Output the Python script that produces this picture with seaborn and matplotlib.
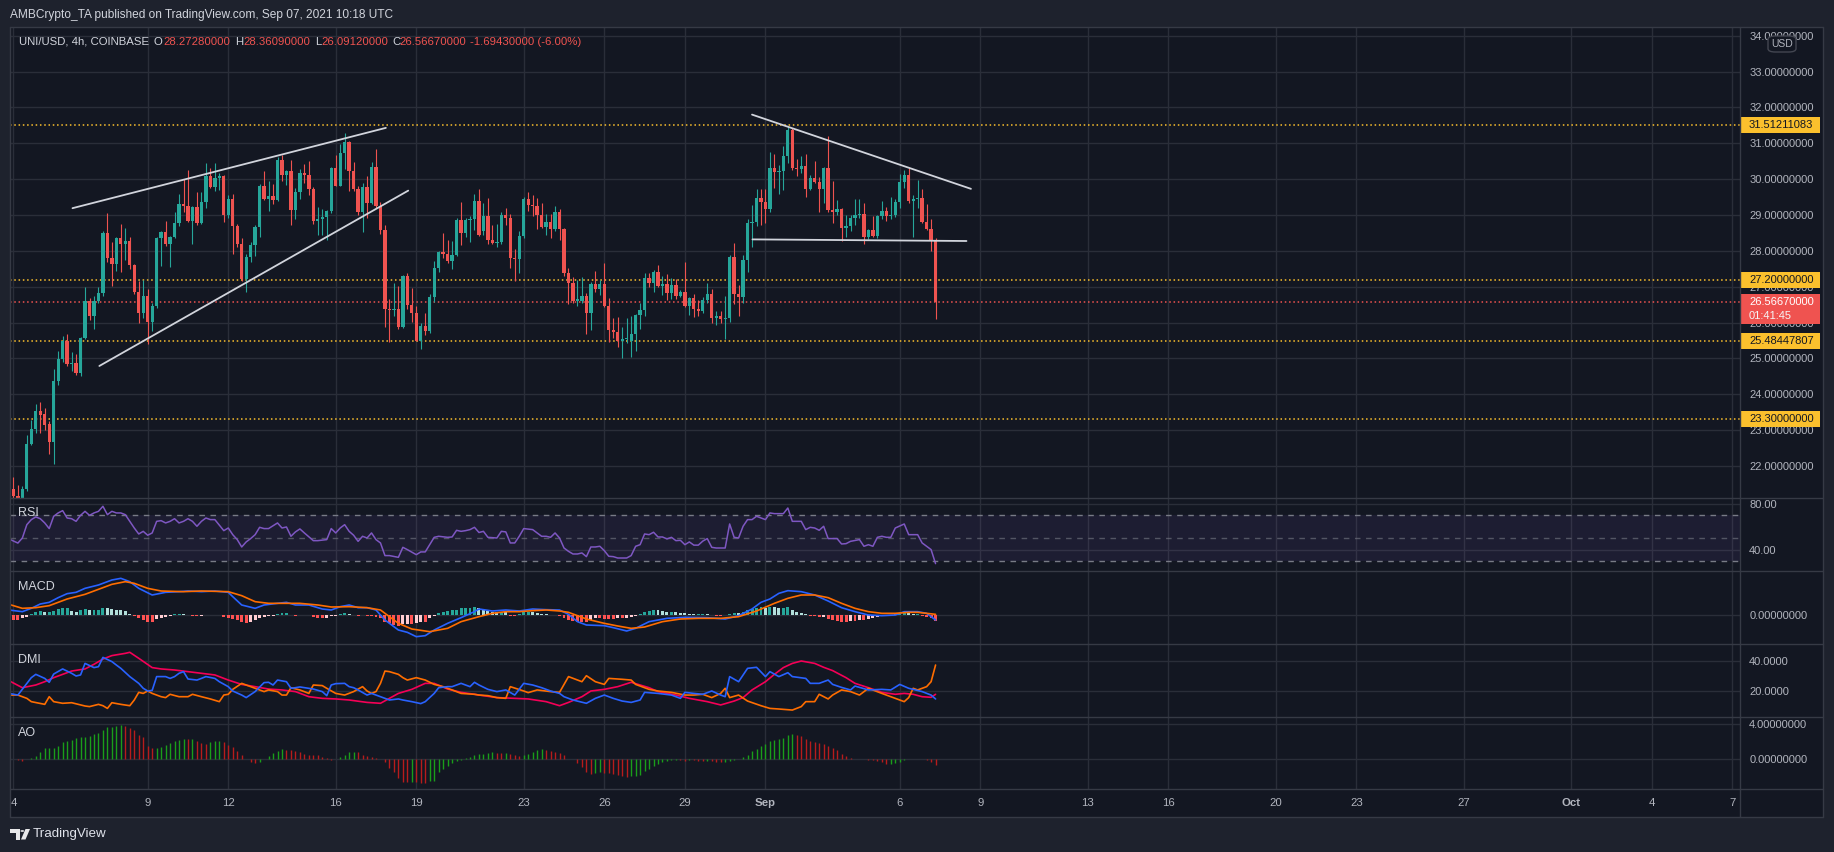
import numpy as np
import pandas as pd
import matplotlib
matplotlib.use("Agg")
import matplotlib.pyplot as plt
import seaborn as sns
from matplotlib.patches import Rectangle, FancyBboxPatch, Polygon, Circle
from matplotlib.transforms import blended_transform_factory
from matplotlib.lines import Line2D

# ---------------- data ----------------
# 4h candles, index 0 = Aug 4 2021 00:00 UTC (index -1 = Aug 3 20:00)
opens = [21.15, 21.35, 21.16, 21.12, 21.35, 22.62, 23.03, 23.53, 23.45, 23.17,
         22.68, 24.38, 24.98, 25.49, 24.84, 24.87, 24.59, 25.57, 26.61, 26.17,
         26.59, 26.82, 28.5, 27.8, 27.64, 28.36, 28.19, 28.28, 27.6, 26.86,
         26.28, 26.75, 26.02, 26.47, 28.36, 28.54, 28.2, 28.39, 28.79, 29.3,
         29.26, 28.84, 29.22, 28.78, 29.35, 30.08, 29.79, 30.03, 30.08, 29.0,
         29.44, 28.7, 28.19, 27.21, 27.82, 28.17, 28.67, 29.8, 29.46, 29.52,
         29.43, 30.53, 30.11, 30.22, 29.15, 29.63, 30.17, 30.12, 29.72, 28.84,
         28.89, 28.94, 29.1, 30.31, 29.82, 30.73, 31.04, 30.23, 29.72, 29.07,
         29.77, 29.33, 30.33, 29.26, 28.58, 26.38, 26.36, 26.38, 25.89, 27.3,
         26.49, 26.28, 25.5, 25.91, 25.77, 26.7, 27.53, 27.97, 27.91, 27.72,
         27.89, 28.86, 28.51, 28.86, 28.89, 29.39, 28.55, 28.97, 28.3, 28.23,
         28.25, 29.0, 28.91, 27.81, 27.78, 28.42, 29.45, 29.28, 29.25, 29.0,
         28.66, 28.8, 28.61, 29.08, 28.6, 27.38, 27.1, 26.6, 26.6, 26.74,
         26.26, 27.08, 26.93, 27.08, 26.47, 25.78, 25.75, 25.49, 25.54, 25.5,
         25.68, 26.21, 26.35, 27.23, 27.09, 27.4, 27.03, 27.08, 26.83, 27.05,
         26.74, 26.84, 26.47, 26.69, 26.37, 26.33, 26.63, 26.8, 26.12, 26.17,
         26.1, 26.13, 27.82, 26.8, 26.72, 27.75, 28.77, 28.81, 29.47, 29.37,
         29.18, 30.3, 30.21, 30.24, 30.65, 31.37, 30.31, 30.29, 30.37, 29.73,
         30.03, 29.93, 29.73, 30.31, 29.14, 29.07, 29.17, 28.65, 28.7, 28.93,
         29.0, 29.02, 28.4, 28.58, 28.41, 28.97, 29.11, 28.97, 29.0, 29.36,
         29.92, 30.11, 29.4, 29.44, 29.48, 28.81, 28.62, 28.2728]
highs = [21.6, 21.7, 21.47, 21.44, 22.87, 23.28, 23.73, 23.79, 23.62, 23.25,
         24.7, 25.22, 25.62, 25.68, 25.17, 25.12, 25.6, 27.0, 26.68, 26.73,
         26.98, 28.56, 29.05, 28.24, 28.4, 28.75, 28.65, 28.39, 27.62, 27.17,
         27.2, 26.95, 26.55, 28.38, 28.56, 28.83, 28.42, 29.07, 29.58, 30.0,
         30.25, 29.25, 29.63, 29.63, 30.44, 30.31, 30.44, 30.17, 30.12, 29.57,
         29.58, 28.75, 28.36, 27.9, 28.24, 28.72, 29.86, 30.23, 29.96, 29.86,
         30.63, 30.67, 30.25, 30.53, 29.74, 30.28, 30.42, 30.5, 29.78, 29.21,
         29.16, 29.14, 30.35, 30.67, 30.98, 31.29, 31.07, 30.47, 29.8, 29.9,
         30.09, 30.49, 30.84, 29.35, 28.72, 26.66, 27.1, 27.02, 27.32, 27.38,
         26.96, 26.45, 26.0, 26.28, 26.8, 27.72, 28.0, 28.49, 28.3, 28.28,
         28.92, 29.35, 28.92, 28.97, 29.59, 29.72, 29.33, 29.47, 28.72, 28.75,
         29.07, 29.2, 29.03, 28.05, 28.56, 29.49, 29.65, 29.56, 29.47, 29.33,
         29.03, 29.03, 29.25, 29.16, 28.63, 27.53, 27.28, 27.19, 27.28, 26.82,
         27.12, 27.44, 27.19, 27.65, 26.68, 26.12, 26.15, 25.87, 26.12, 26.17,
         26.24, 26.56, 27.37, 27.39, 27.48, 27.61, 27.3, 27.35, 27.23, 27.22,
         26.91, 27.68, 26.72, 26.8, 26.63, 26.72, 27.11, 26.94, 26.33, 26.32,
         26.74, 27.89, 28.21, 27.05, 27.89, 28.88, 29.27, 29.72, 29.72, 29.72,
         30.77, 30.7, 30.4, 30.93, 31.48, 31.44, 30.55, 30.65, 30.7, 30.12,
         30.51, 30.07, 30.33, 31.2, 29.95, 29.42, 29.2, 29.0, 29.0, 29.46,
         29.46, 29.34, 28.6, 28.97, 29.0, 29.39, 29.23, 29.49, 29.44, 30.14,
         30.26, 30.32, 29.56, 29.98, 29.72, 29.32, 28.89, 28.3609]
lows = [21.1, 21.1, 21.08, 21.1, 21.3, 22.58, 22.93, 22.91, 23.0, 22.33,
        22.06, 24.26, 24.9, 24.8, 24.66, 24.55, 24.52, 25.54, 26.08, 25.82,
        26.56, 26.73, 27.68, 27.03, 27.45, 27.42, 27.75, 27.49, 26.8, 26.0,
        26.14, 25.4, 25.77, 26.4, 27.59, 28.14, 27.54, 28.35, 28.7, 29.09,
        28.8, 28.19, 28.72, 28.75, 29.2, 29.75, 29.68, 29.7, 28.81, 28.93,
        27.91, 28.1, 27.15, 26.86, 27.7, 27.86, 28.38, 29.42, 29.12, 29.3,
        29.4, 29.96, 29.85, 28.73, 28.9, 29.44, 29.9, 29.55, 28.75, 28.44,
        28.43, 28.31, 29.05, 29.8, 29.8, 30.28, 29.68, 29.68, 29.0, 28.53,
        28.93, 29.3, 29.2, 28.47, 25.87, 25.47, 26.17, 25.83, 25.85, 26.38,
        26.03, 25.48, 25.27, 25.64, 25.72, 26.58, 27.42, 27.79, 27.67, 27.5,
        27.85, 28.17, 28.4, 28.26, 28.58, 28.42, 28.44, 28.19, 28.19, 28.12,
        28.2, 28.72, 27.53, 27.17, 27.39, 28.35, 29.12, 28.97, 28.61, 28.63,
        28.44, 28.37, 28.55, 28.29, 27.3, 26.52, 26.54, 26.45, 26.54, 25.68,
        25.78, 26.86, 26.77, 26.44, 25.47, 25.56, 25.31, 25.0, 25.44, 25.03,
        25.22, 25.83, 26.18, 27.0, 26.86, 26.99, 26.77, 26.63, 26.65, 26.66,
        26.7, 26.44, 26.21, 26.16, 26.17, 26.26, 26.54, 26.0, 25.93, 26.0,
        25.55, 26.03, 26.52, 26.17, 26.54, 27.42, 28.12, 28.69, 28.72, 28.79,
        29.07, 29.76, 29.58, 29.7, 30.46, 30.25, 30.1, 30.18, 29.51, 29.7,
        29.88, 29.07, 29.34, 29.09, 28.79, 29.0, 28.28, 28.4, 28.56, 28.72,
        28.93, 28.19, 28.33, 28.39, 28.36, 28.88, 28.84, 28.9, 28.95, 29.2,
        29.74, 29.34, 28.4, 29.2, 28.78, 28.58, 28.01, 26.0912]
closes = [21.35, 21.15, 21.12, 21.36, 22.62, 23.03, 23.53, 23.43, 23.14, 22.68,
          24.38, 24.98, 25.49, 24.84, 24.87, 24.59, 25.57, 26.61, 26.17, 26.59,
          26.82, 28.5, 27.8, 27.64, 28.36, 28.19, 28.28, 27.6, 26.86, 26.28,
          26.75, 26.02, 26.47, 28.36, 28.54, 28.19, 28.39, 28.79, 29.3, 29.24,
          28.84, 29.22, 28.78, 29.35, 30.08, 29.79, 30.03, 30.08, 29.0, 29.44,
          28.7, 28.19, 27.21, 27.82, 28.17, 28.67, 29.8, 29.46, 29.52, 29.43,
          30.53, 30.11, 30.22, 29.15, 29.63, 30.17, 30.12, 29.72, 28.84, 28.89,
          28.94, 29.1, 30.31, 29.82, 30.73, 31.04, 30.23, 29.72, 29.07, 29.77,
          29.33, 30.33, 29.26, 28.58, 26.38, 26.36, 26.38, 25.89, 27.3, 26.49,
          26.28, 25.5, 25.91, 25.77, 26.7, 27.53, 27.97, 27.91, 27.72, 27.89,
          28.86, 28.51, 28.86, 28.89, 29.39, 28.44, 28.97, 28.3, 28.23, 28.25,
          29.0, 28.91, 27.81, 27.78, 28.42, 29.45, 29.28, 29.25, 29.0, 28.66,
          28.8, 28.61, 29.08, 28.6, 27.38, 27.1, 26.6, 26.65, 26.74, 26.26,
          27.08, 26.93, 27.08, 26.47, 25.78, 25.75, 25.49, 25.54, 25.58, 25.68,
          26.21, 26.35, 27.23, 27.09, 27.4, 27.03, 27.08, 26.83, 27.05, 26.74,
          26.84, 26.47, 26.69, 26.37, 26.33, 26.63, 26.8, 26.12, 26.17, 26.1,
          26.13, 27.82, 26.8, 26.72, 27.75, 28.77, 28.81, 29.47, 29.37, 29.18,
          30.3, 30.21, 30.24, 30.65, 31.37, 30.31, 30.29, 30.37, 29.73, 30.03,
          29.93, 29.73, 30.31, 29.14, 29.07, 29.17, 28.65, 28.7, 28.93, 29.0,
          29.02, 28.4, 28.58, 28.41, 28.97, 29.11, 28.97, 29.0, 29.36, 29.92,
          30.11, 29.4, 29.44, 29.48, 28.81, 28.62, 28.2728, 26.5667]
change_abs = -1.6943
change_pct = -6.00

# RSI readings (candle index, value)
rsi_i = [-1, 1, 2, 3, 4, 5, 6, 7, 8, 9,
         10, 11, 12, 13, 14, 15, 16, 17, 18, 19,
         20, 21, 22, 23, 24, 25, 26, 27, 28, 29,
         30, 31, 32, 33, 34, 35, 36, 37, 38, 39,
         40, 41, 42, 43, 44, 45, 47, 48, 49, 50,
         51, 52, 53, 54, 55, 56, 57, 59, 60, 61,
         62, 63, 64, 65, 67, 68, 70, 71, 72, 73,
         74, 75, 76, 77, 78, 79, 80, 81, 82, 83,
         84, 86, 87, 88, 90, 91, 92, 93, 94, 95,
         97, 98, 99, 100, 101, 102, 103, 104, 105, 106,
         108, 109, 110, 111, 112, 113, 114, 116, 117, 118,
         119, 120, 121, 122, 123, 124, 125, 126, 127, 128,
         129, 130, 131, 132, 133, 134, 135, 137, 138, 139,
         140, 141, 142, 143, 144, 145, 146, 147, 148, 149,
         150, 151, 152, 153, 154, 155, 156, 157, 159, 160,
         161, 162, 163, 164, 165, 166, 168, 169, 170, 172,
         173, 174, 176, 177, 178, 179, 180, 181, 182, 184,
         185, 186, 187, 189, 190, 191, 192, 193, 194, 195,
         196, 197, 199, 200, 202, 203, 204, 205, 206]
rsi_v = [49.6, 46.0, 50.4, 62.0, 66.4, 68.7, 67.2, 63.5, 58.6, 69.3,
         72.2, 74.2, 67.8, 67.2, 64.9, 70.1, 73.6, 70.1, 72.2, 73.6,
         78.0, 70.7, 73.6, 72.2, 72.2, 70.7, 64.9, 59.1, 53.9, 56.2,
         52.8, 54.8, 64.9, 65.5, 63.5, 64.9, 67.2, 63.5, 64.9, 67.2,
         64.9, 60.6, 64.9, 67.8, 66.4, 66.4, 56.8, 59.1, 53.3, 49.0,
         42.6, 47.0, 49.9, 53.3, 59.7, 58.6, 58.6, 63.5, 59.1, 60.0,
         51.9, 55.7, 58.3, 54.8, 48.1, 48.1, 49.0, 58.6, 54.8, 59.1,
         62.0, 56.2, 52.8, 47.5, 51.9, 50.4, 54.8, 49.0, 46.1, 35.1,
         35.1, 33.6, 42.3, 40.3, 35.9, 38.3, 38.3, 44.6, 51.0, 51.9,
         51.0, 51.3, 57.1, 56.2, 56.8, 57.7, 59.7, 55.2, 56.2, 51.0,
         50.4, 56.2, 55.7, 46.1, 46.1, 51.9, 58.6, 57.7, 54.8, 51.9,
         51.9, 51.0, 54.8, 50.4, 41.7, 38.8, 36.5, 36.5, 37.4, 34.2,
         42.6, 42.6, 43.2, 39.4, 34.5, 34.2, 33.0, 33.0, 35.1, 43.2,
         44.6, 53.9, 53.3, 55.4, 51.3, 51.3, 49.6, 51.0, 48.1, 48.4,
         44.6, 47.0, 44.2, 44.2, 47.7, 49.9, 42.3, 41.7, 41.7, 62.6,
         51.0, 50.4, 60.6, 66.4, 66.4, 69.3, 66.4, 72.2, 71.6, 71.6,
         76.5, 64.9, 64.9, 57.7, 59.7, 59.1, 57.1, 60.6, 49.9, 49.9,
         45.2, 45.5, 47.5, 49.0, 43.2, 44.6, 43.2, 51.0, 51.9, 51.0,
         51.0, 59.1, 62.6, 53.3, 53.3, 46.1, 43.2, 40.3, 28.1]

# MACD line / signal line readings (candle index, value)
macd_i = [-1, 2, 4, 6, 8, 10, 12, 14, 16, 19,
          22, 24, 26, 28, 31, 34, 37, 39, 42, 45,
          48, 49, 51, 54, 56, 59, 61, 63, 66, 69,
          71, 73, 75, 77, 79, 81, 83, 86, 88, 90,
          92, 94, 97, 100, 103, 104, 107, 110, 113, 116,
          119, 122, 124, 126, 128, 132, 134, 137, 139, 142,
          146, 150, 155, 159, 162, 165, 167, 169, 171, 173,
          176, 179, 182, 185, 188, 191, 194, 197, 199, 202,
          204, 206]
macd_v = [0.15, 0.10, 0.20, 0.33, 0.38, 0.52, 0.64, 0.68, 0.80, 0.90,
          1.05, 1.10, 1.00, 0.80, 0.60, 0.68, 0.70, 0.72, 0.70, 0.72,
          0.68, 0.55, 0.30, 0.20, 0.30, 0.35, 0.38, 0.30, 0.30, 0.18,
          0.15, 0.25, 0.30, 0.22, 0.22, 0.15, -0.15, -0.45, -0.52, -0.65,
          -0.62, -0.45, -0.25, -0.08, 0.10, 0.18, 0.12, 0.15, 0.12, 0.18,
          0.16, 0.15, 0.02, -0.20, -0.30, -0.32, -0.38, -0.48, -0.40, -0.20,
          -0.10, -0.07, -0.08, -0.12, -0.02, 0.18, 0.38, 0.48, 0.65, 0.73,
          0.70, 0.60, 0.42, 0.22, 0.10, 0.00, -0.02, 0.00, 0.10, 0.10,
          0.05, -0.15]
sig_i = [-1, 2, 5, 8, 12, 16, 19, 22, 25, 27,
         30, 33, 38, 42, 48, 51, 54, 57, 60, 64,
         68, 71, 75, 79, 82, 84, 86, 89, 93, 97,
         100, 104, 107, 110, 113, 116, 119, 122, 124, 126,
         128, 132, 135, 138, 141, 145, 149, 153, 158, 162,
         166, 170, 173, 176, 179, 182, 185, 188, 191, 194,
         197, 200, 202, 206]
sig_v = [0.32, 0.20, 0.22, 0.28, 0.48, 0.62, 0.77, 0.92, 1.00, 0.95,
         0.80, 0.72, 0.70, 0.72, 0.70, 0.58, 0.40, 0.35, 0.35, 0.35,
         0.30, 0.24, 0.25, 0.22, 0.15, -0.05, -0.25, -0.42, -0.50, -0.40,
         -0.20, -0.05, 0.05, 0.10, 0.10, 0.13, 0.15, 0.12, 0.08, -0.02,
         -0.12, -0.25, -0.33, -0.40, -0.36, -0.20, -0.12, -0.10, -0.10, -0.05,
         0.12, 0.35, 0.50, 0.60, 0.60, 0.52, 0.35, 0.20, 0.10, 0.05,
         0.05, 0.08, 0.08, 0.02]
# MACD histogram, one per candle from index -1
hist_v = [-0.15, -0.15, -0.15, -0.1, -0.05, 0.02, 0.1, 0.12, 0.08, 0.08,
          0.12, 0.18, 0.2, 0.2, 0.12, 0.1, 0.15, 0.18, 0.15, 0.15,
          0.15, 0.22, 0.2, 0.17, 0.16, 0.15, 0.12, 0.03, -0.03, -0.1,
          -0.15, -0.2, -0.2, -0.12, -0.08, -0.06, -0.03, 0.02, 0.03, 0.02,
          -0.01, -0.02, -0.03, -0.02, 0.01, 0.01, 0.01, 0.01, -0.05, -0.08,
          -0.12, -0.15, -0.22, -0.25, -0.2, -0.15, -0.08, -0.05, -0.03, -0.02,
          0.03, 0.05, 0.06, -0.01, -0.02, 0.01, 0.01, -0.01, -0.05, -0.08,
          -0.1, -0.08, -0.04, -0.03, 0.02, 0.05, 0.02, -0.01, -0.02, -0.01,
          -0.03, -0.04, -0.05, -0.1, -0.2, -0.25, -0.3, -0.32, -0.28, -0.27,
          -0.27, -0.25, -0.2, -0.2, -0.1, -0.03, 0.05, 0.08, 0.12, 0.14,
          0.16, 0.2, 0.22, 0.22, 0.24, 0.2, 0.16, 0.12, 0.1, 0.08,
          0.1, 0.08, -0.03, -0.04, 0.02, 0.08, 0.1, 0.08, 0.06, 0.03,
          0.02, -0.01, 0.01, -0.02, -0.1, -0.15, -0.18, -0.2, -0.2, -0.22,
          -0.15, -0.1, -0.1, -0.12, -0.13, -0.13, -0.1, -0.1, -0.08, -0.06,
          -0.02, 0.02, 0.08, 0.12, 0.15, 0.14, 0.12, 0.1, 0.1, 0.08,
          0.07, 0.05, 0.04, 0.02, 0.02, 0.03, 0.02, -0.01, -0.02, -0.02,
          -0.01, 0.04, 0.06, 0.05, 0.1, 0.15, 0.18, 0.22, 0.24, 0.2,
          0.25, 0.24, 0.22, 0.22, 0.24, 0.15, 0.1, 0.06, 0.02, -0.02,
          -0.03, -0.06, -0.05, -0.12, -0.15, -0.17, -0.2, -0.2, -0.18, -0.18,
          -0.15, -0.16, -0.12, -0.08, -0.05, -0.03, -0.01, 0.01, 0.04, 0.05,
          0.06, 0.05, 0.03, 0.03, -0.03, -0.05, -0.1, -0.17]

# DMI readings (candle index, value)
pdi_pts = [(-1, 18.4), (1, 17.3), (3, 25.1), (4, 28.9), (5, 31.1), (7, 28.4), (8, 25.8), (9, 31.3), (11, 34.7), (13, 31.8),
           (14, 30.0), (15, 30.7), (16, 38.4), (18, 35.6), (19, 36.2), (20, 42.4), (22, 39.6), (23, 37.3), (24, 35.1), (26, 29.6),
           (28, 25.1), (29, 21.8), (30, 20.0), (31, 20.4), (32, 29.6), (34, 29.6), (35, 28.4), (36, 29.6), (37, 31.8), (38, 32.9),
           (39, 28.0), (41, 27.3), (42, 28.4), (43, 29.6), (45, 28.4), (46, 26.2), (48, 22.9), (49, 20.0), (51, 17.3), (52, 15.6),
           (54, 19.6), (56, 25.6), (57, 25.8), (58, 24.0), (59, 27.3), (61, 26.2), (62, 21.8), (63, 22.2), (64, 22.7), (66, 21.8),
           (67, 21.3), (69, 19.6), (70, 16.9), (71, 24.0), (72, 24.9), (74, 25.1), (75, 22.9), (76, 22.2), (77, 20.7), (79, 17.3),
           (80, 18.4), (81, 17.3), (83, 15.1), (84, 14.0), (86, 14.7), (87, 14.0), (89, 12.9), (91, 11.6), (92, 12.9), (94, 18.4),
           (95, 22.2), (97, 22.9), (98, 22.9), (100, 25.1), (102, 22.9), (103, 25.8), (104, 24.0),
           (106, 21.1), (108, 19.6), (110, 20.7), (112, 17.3), (114, 25.1), (116, 24.0), (118, 22.2), (120, 20.0), (122, 18.4), (123, 16.2),
           (125, 14.0), (128, 11.8), (130, 15.1), (132, 17.3), (134, 15.1), (136, 13.3), (138, 12.4), (140, 14.0), (141, 19.1), (144, 18.4),
           (147, 17.3), (149, 15.1), (150, 19.1), (152, 18.4), (154, 17.8), (156, 20.0), (158, 17.3), (159, 16.2), (160, 29.6), (162, 26.2),
           (164, 35.1), (166, 35.8), (168, 29.6), (169, 32.9), (171, 29.6), (173, 32.2), (174, 29.6), (177, 28.4), (178, 25.1), (180, 25.1),
           (182, 27.3), (183, 24.4), (185, 22.4), (187, 20.7), (188, 23.3), (191, 20.7), (194, 21.1), (196, 20.7), (198, 24.4), (200, 21.8),
           (203, 19.6), (205, 17.3), (206, 14.7)]
mdi_pts = [(-1, 17.3), (1, 17.3), (3, 15.1), (4, 12.9), (7, 11.1), (8, 16.2), (9, 12.9), (11, 11.8), (13, 12.2), (16, 10.0),
           (17, 9.6), (19, 11.1), (20, 10.2), (21, 8.4), (22, 12.2), (24, 11.1), (26, 10.2), (27, 14.0), (28, 19.1), (29, 18.4),
           (30, 20.0), (31, 18.4), (33, 16.2), (34, 15.6), (35, 17.8), (37, 16.2), (39, 16.2), (40, 17.8), (42, 16.2), (44, 14.7),
           (46, 12.9), (47, 17.3), (48, 17.8), (49, 21.1), (51, 25.1), (52, 24.0), (54, 21.8), (56, 19.6), (57, 20.7), (59, 19.6),
           (60, 17.3), (61, 17.3), (62, 22.2), (64, 20.7), (66, 18.4), (67, 24.0), (69, 23.6), (70, 21.8), (72, 18.4), (74, 17.3),
           (76, 19.6), (78, 22.9), (79, 20.0), (80, 18.4), (81, 19.6), (82, 25.1), (83, 33.3), (84, 32.9), (86, 31.1), (87, 28.9),
           (88, 27.3), (90, 28.9), (92, 27.3), (94, 24.4), (96, 22.9), (98, 20.7), (100, 18.4), (103, 17.8), (104, 17.3),
           (106, 16.9), (108, 15.6), (110, 15.1), (111, 22.9), (114, 20.0), (115, 18.9), (117, 20.7), (120, 19.6), (122, 19.1), (124, 29.6),
           (127, 26.2), (128, 30.2), (130, 26.2), (132, 24.4), (133, 28.4), (136, 27.8), (138, 27.3), (139, 24.4), (142, 21.1), (144, 20.0),
           (147, 19.1), (150, 17.3), (152, 17.3), (154, 17.8), (156, 15.6), (158, 18.4), (159, 21.8), (160, 15.6), (162, 17.3), (164, 13.3),
           (167, 10.2), (169, 8.4), (171, 8.0), (174, 7.3), (176, 9.6), (177, 12.9), (179, 12.9), (180, 17.8), (182, 14.7), (183, 17.3),
           (185, 20.7), (187, 19.6), (189, 17.3), (191, 21.8), (194, 18.4), (197, 15.1), (199, 12.9), (200, 15.6), (201, 21.8), (202, 20.7),
           (204, 22.9), (205, 26.2), (206, 37.3)]
adx_pts = [(-1, 26.9), (2, 22.2), (5, 24.0), (7, 26.2), (9, 28.9), (11, 31.1), (13, 33.3), (16, 34.7), (18, 37.8), (20, 41.3),
           (22, 43.6), (25, 45.1), (26, 45.8), (28, 41.8), (31, 35.6), (33, 34.7), (36, 34.0), (39, 32.9), (42, 31.8), (45, 30.7),
           (48, 27.3), (51, 24.4), (54, 22.9), (57, 21.3), (60, 20.7), (63, 19.6), (66, 16.2), (69, 15.1), (72, 14.7), (75, 14.0),
           (79, 12.4), (82, 11.8), (84, 15.1), (86, 18.4), (89, 21.1), (92, 25.1), (94, 25.1), (97, 21.3), (100, 19.1), (103, 17.8),
           (104, 17.3), (108, 15.6), (112, 15.1), (115, 14.7), (119, 12.9), (122, 10.2), (124, 12.4), (127, 16.2), (129, 20.0), (132, 21.1),
           (135, 22.9), (138, 25.8), (142, 22.2), (144, 19.6), (148, 17.3), (151, 15.1), (155, 12.9), (158, 10.7), (161, 13.3), (163, 15.6),
           (165, 20.7), (168, 26.2), (170, 31.1), (172, 35.6), (174, 38.4), (176, 40.0), (179, 38.4), (181, 35.8), (183, 33.6), (186, 28.9),
           (188, 25.1), (191, 22.2), (194, 19.1), (197, 17.8), (199, 18.4), (201, 17.8), (203, 16.2), (205, 15.8), (206, 17.8)]

# Awesome Oscillator, one per candle from index -1
ao_v = [-0.05, -0.05, -0.1, -0.2, 0.05, 0.1, 0.3, 0.8, 1.2, 1.2,
        1.2, 1.5, 1.9, 2.1, 2.2, 2.4, 2.5, 2.5, 2.6, 2.8,
        3.0, 3.3, 3.6, 3.7, 3.8, 3.9, 3.8, 3.5, 3.3, 2.7,
        2.5, 1.5, 1.3, 1.3, 1.4, 1.6, 1.8, 2.0, 2.2, 2.3,
        2.25, 2.3, 2.0, 1.8, 1.7, 1.9, 2.0, 2.05, 1.9, 1.6,
        1.4, 0.9, 0.5, 0.05, -0.4, -0.45, -0.3, -0.05, 0.3, 0.7,
        0.9, 1.1, 1.05, 1.0, 0.9, 0.8, 0.6, 0.5, 0.45, 0.4,
        0.2, 0.1, -0.15, 0.05, 0.2, 0.5, 0.8, 0.85, 0.8, 0.5,
        0.3, 0.2, 0.1, 0.05, -0.3, -1.0, -1.5, -2.2, -2.6, -2.65,
        -2.6, -2.65, -2.7, -2.75, -2.5, -2.5, -1.5, -1.2, -0.8, -0.5,
        -0.2, -0.1, 0.1, 0.2, 0.4, 0.55, 0.6, 0.7, 0.75, 0.7,
        0.65, 0.7, 0.55, 0.45, 0.35, 0.45, 0.55, 0.8, 1.05, 1.1,
        1.0, 0.9, 0.8, 0.7, 0.4, 0.05, -0.05, -0.5, -0.9, -1.5,
        -1.7, -1.6, -1.5, -1.6, -1.65, -1.7, -1.8, -2.0, -2.1, -2.0,
        -1.9, -1.8, -1.4, -1.1, -0.8, -0.6, -0.4, -0.2, -0.15, -0.1,
        -0.15, -0.2, -0.1, -0.15, -0.2, -0.22, -0.2, -0.25, -0.3, -0.35,
        -0.3, -0.2, -0.1, 0.05, 0.2, 0.5, 0.9, 1.1, 1.5, 1.7,
        2.0, 2.2, 2.3, 2.4, 2.7, 2.8, 2.75, 2.6, 2.3, 2.1,
        1.9, 1.8, 1.7, 1.5, 1.2, 1.0, 0.6, 0.3, 0.1, 0.02,
        0.0, -0.05, -0.1, -0.15, -0.25, -0.4, -0.6, -0.55, -0.5, -0.3,
        -0.1, 0.05, 0.0, 0.02, -0.05, -0.1, -0.3, -0.7]

# drawings: trend lines (candle index, price)
trend_x0 = [13.2, 19.2, 165.0, 165.1]
trend_p0 = [29.19, 24.79, 31.80, 28.32]
trend_x1 = [83.2, 88.2, 213.9, 212.9]
trend_p1 = [31.43, 29.68, 29.73, 28.275]
level_prices = [31.51211083, 27.2, 25.48447807, 23.3]
last_price = 26.5667
countdown = "01:41:45"

# time axis: days after Aug 4 and labels
tick_days = [0, 5, 8, 12, 15, 19, 22, 25, 28, 33, 36, 40, 43, 47, 50, 54, 58, 61, 64]
tick_labels = ["4", "9", "12", "16", "19", "23", "26", "29", "Sep", "6", "9",
               "13", "16", "20", "23", "27", "Oct", "4", "7"]
price_ticks = list(range(22, 35))

# ---------------- style ----------------
W, H = 1834, 852
BG_OUT = "#1e222d"
BG = "#131722"
GRID = "#2a2e39"
SEP = "#363a45"
TXT = "#b2b5be"
UP, DN = "#26a69a", "#ef5350"
YEL = "#fbc02d"

sns.set_theme(style="dark")
plt.rcParams["font.family"] = ["Liberation Sans", "DejaVu Sans"]
plt.rcParams["axes.unicode_minus"] = False

fig = plt.figure(figsize=(W / 100, H / 100), dpi=100, facecolor=BG_OUT)


def px_axes(x0, y0, x1, y1):
    return fig.add_axes([x0 / W, 1 - y1 / H, (x1 - x0) / W, (y1 - y0) / H])


def fig_line(xs, ys, color=SEP, lw=1.0):
    fig.add_artist(Line2D([x / W for x in xs], [1 - y / H for y in ys],
                          transform=fig.transFigure, color=color, lw=lw, zorder=5))


fig.add_artist(Rectangle((10 / W, 1 - 817 / H), (1823 - 10) / W, (817 - 27) / H,
                         transform=fig.transFigure, fc=BG, ec="none", zorder=-10))

XL = (-0.76, 385.7)
xt = [6 * d for d in tick_days]

pane_rows = [(27, 498), (498, 571), (571, 644), (644, 717), (717, 789)]
axes = []
for (y0, y1) in pane_rows:
    a = px_axes(10, y0, 1740, y1)
    a.set_facecolor(BG)
    a.set_xlim(*XL)
    for s in a.spines.values():
        s.set_visible(False)
    a.set_xticks(xt)
    a.tick_params(axis="x", length=0, labelbottom=False)
    a.yaxis.tick_right()
    a.tick_params(axis="y", length=0, pad=6.6, labelsize=8, labelcolor=TXT,
                  left=False, right=False, labelleft=False, labelright=True)
    a.grid(True, color=GRID, linewidth=1.0, zorder=0)
    a.set_axisbelow(True)
    axes.append(a)
ax_p, ax_rsi, ax_macd, ax_dmi, ax_ao = axes

# ---------------- price pane ----------------
t = np.arange(-1, len(closes) - 1)
O = np.array(opens); Hh = np.array(highs); L = np.array(lows); C = np.array(closes)
ccol = np.where(C >= O, UP, DN)
ax_p.vlines(t, L, Hh, colors=ccol, lw=0.8, zorder=3)
ax_p.bar(t, np.maximum(np.abs(C - O), 0.03), bottom=np.minimum(O, C), width=0.74,
         color=ccol, linewidth=0, zorder=4)
ax_p.set_ylim(21.108, 34.243)
ax_p.set_yticks(price_ticks)
ax_p.set_yticklabels([f"{v:.8f}" for v in price_ticks])

for lv in level_prices:
    ax_p.axhline(lv, color=YEL, lw=1.1, ls=(0, (1.0, 1.8)), zorder=2)
ax_p.axhline(last_price, color=DN, lw=1.1, ls=(0, (1.0, 1.8)), zorder=2)

for x0, p0, x1, p1 in zip(trend_x0, trend_p0, trend_x1, trend_p1):
    ax_p.plot([x0, x1], [p0, p1], color="#d1d4dc", lw=1.3, zorder=6,
              solid_capstyle="round")

bt = blended_transform_factory(ax_p.transAxes, ax_p.transData)
bw = 80 / 1730
for lv in level_prices:
    ax_p.add_patch(Rectangle((1.0, lv - 0.223), bw, 0.446, transform=bt,
                             fc=YEL, ec="none", clip_on=False, zorder=20))
    ax_p.text(1.0 + 9 / 1730, lv, f"{lv:.8f}", transform=bt, ha="left", va="center",
              fontsize=8, color="#131722", clip_on=False, zorder=21)
ax_p.add_patch(Rectangle((1.0, last_price - 0.605), bw, 0.836, transform=bt,
                         fc=DN, ec="none", clip_on=False, zorder=20))
ax_p.text(1.0 + 9 / 1730, last_price, f"{last_price:.8f}", transform=bt, ha="left",
          va="center", fontsize=8, color="white", clip_on=False, zorder=21)
ax_p.text(1.0 + 9 / 1730, last_price - 0.39, countdown, transform=bt, ha="left",
          va="center", fontsize=8, color="#f5f5f5", clip_on=False, zorder=21)

# ---------------- RSI ----------------
ax_rsi.set_ylim(21.7, 85.2)
ax_rsi.set_yticks([80, 40])
ax_rsi.set_yticklabels(["80.00", "40.00"])
ax_rsi.axhspan(30, 70, color="#7e57c2", alpha=0.1, lw=0, zorder=1)
for lv, al in [(70, 1.0), (50, 0.6), (30, 1.0)]:
    ax_rsi.axhline(lv, color="#787b86", lw=1.0, ls=(0, (4, 4)), alpha=al, zorder=2)
sns.lineplot(x=rsi_i, y=rsi_v, ax=ax_rsi, color="#7e57c2", linewidth=1.1,
             errorbar=None, zorder=5)

# ---------------- MACD ----------------
ax_macd.set_ylim(-0.87, 1.32)
ax_macd.set_yticks([0])
ax_macd.set_yticklabels(["0.00000000"])
hv = np.array(hist_v)
hp = np.r_[hv[0], hv[:-1]]
hcol = np.where(hv >= 0, np.where(hv >= hp, "#26a69a", "#b2dfdb"),
                np.where(hv > hp, "#ffcdd2", "#ff5252"))
ax_macd.bar(t, hv, width=0.66, color=hcol, linewidth=0, zorder=3)
sns.lineplot(x=macd_i, y=macd_v, ax=ax_macd, color="#2962ff", linewidth=1.2,
             errorbar=None, zorder=5)
sns.lineplot(x=sig_i, y=sig_v, ax=ax_macd, color="#ff6d00", linewidth=1.2,
             errorbar=None, zorder=6)

# ---------------- DMI ----------------
ax_dmi.set_ylim(2.67, 51.33)
ax_dmi.set_yticks([40, 20])
ax_dmi.set_yticklabels(["40.0000", "20.0000"])
for pts, col in [(adx_pts, "#f50057"), (mdi_pts, "#ff6d00"), (pdi_pts, "#2962ff")]:
    df = pd.DataFrame(pts, columns=["i", "v"])
    sns.lineplot(data=df, x="i", y="v", ax=ax_dmi, color=col, linewidth=1.2,
                 errorbar=None, zorder=5)

# ---------------- AO ----------------
ax_ao.set_ylim(-3.43, 4.8)
ax_ao.set_yticks([4, 0])
ax_ao.set_yticklabels(["4.00000000", "0.00000000"])
av = np.array(ao_v)
ap = np.r_[av[0], av[:-1]]
acol = np.where(av >= ap, "#1a9e1a", "#b71c1c")
ax_ao.vlines(t, 0, av, colors=acol, lw=1.0, zorder=3)

for a in axes:
    a.set_xlabel("")
    a.set_ylabel("")
    a.set_xlim(*XL)

# pane titles
for y, name in [(513, "RSI"), (587, "MACD"), (660, "DMI"), (733, "AO")]:
    fig.text(18 / W, 1 - y / H, name, ha="left", va="center", fontsize=9,
             color="#d1d4dc", zorder=30)

# ---------------- time axis ----------------
ax_t = px_axes(10, 789, 1740, 817)
ax_t.set_facecolor(BG)
ax_t.set_xlim(*XL)
ax_t.set_ylim(0, 1)
ax_t.axis("off")
for x, lab in zip(xt, tick_labels):
    bold = lab in ("Sep", "Oct")
    ax_t.text(x, 0.5, lab, ha="center", va="center", fontsize=8.2, color=TXT,
              fontweight="bold" if bold else "normal", clip_on=True)

# ---------------- frame / separators ----------------
for y in [27, 498, 571, 644, 717, 789, 817]:
    fig_line([10, 1823], [y, y])
for x in [10, 1740, 1823]:
    fig_line([x, x], [27, 817])

# USD badge
fig.add_artist(FancyBboxPatch((1768 / W, 1 - 52 / H), 28 / W, 16 / H,
                              boxstyle="round,pad=0,rounding_size=0.004",
                              transform=fig.transFigure, fc=BG, ec="#434651", lw=1.0, zorder=25))
fig.text(1782 / W, 1 - 44 / H, "USD", ha="center", va="center", fontsize=7.5,
         color=TXT, zorder=26)

# header
fig.text(10 / W, 1 - 15 / H, "AMBCrypto_TA published on TradingView.com, Sep 07, 2021 10:18 UTC",
         ha="left", va="center", fontsize=8.6, color="#d1d4dc")
LEG_Y = 1 - 42 / H
fig.text(19 / W, LEG_Y, "UNI/USD, 4h, COINBASE", ha="left", va="center", fontsize=8.2,
         color="#d1d4dc", zorder=30)
for lx, lab, nx, val in [(154, "O", 163, opens[-1]), (235, "H", 243, highs[-1]),
                         (315, "L", 321.5, lows[-1]), (392, "C", 399.5, closes[-1])]:
    fig.text(lx / W, LEG_Y, lab, ha="left", va="center", fontsize=8.2, color="#d1d4dc", zorder=30)
    fig.text(nx / W, LEG_Y, f"{val:.8f}", ha="left", va="center", fontsize=8.2, color=DN, zorder=30)
fig.text(470 / W, LEG_Y, f"{change_abs:.8f} ({change_pct:.2f}%)", ha="left", va="center",
         fontsize=8.2, color=DN, zorder=30)

# footer logo
def fx(x):
    return x / W


def fy(y):
    return 1 - y / H


fig.add_artist(Polygon([(fx(10), fy(829)), (fx(19.5), fy(829)), (fx(19.5), fy(839.5)),
                        (fx(15.5), fy(839.5)), (fx(15.5), fy(833)), (fx(10), fy(833))],
                       closed=True, transform=fig.transFigure, fc="#e8e8ea", ec="none"))
fig.add_artist(Circle((fx(22.3), fy(831)), 1.9 / W, transform=fig.transFigure,
                      fc="#e8e8ea", ec="none"))
fig.add_artist(Polygon([(fx(25.5), fy(829)), (fx(30), fy(829)), (fx(25.5), fy(839.5)),
                        (fx(21), fy(839.5))],
                       closed=True, transform=fig.transFigure, fc="#e8e8ea", ec="none"))
fig.text(fx(33), fy(834.5), "TradingView", ha="left", va="center", fontsize=9.6,
         color="#e0e3eb")

fig.savefig("out.png", dpi=100, facecolor=BG_OUT)
